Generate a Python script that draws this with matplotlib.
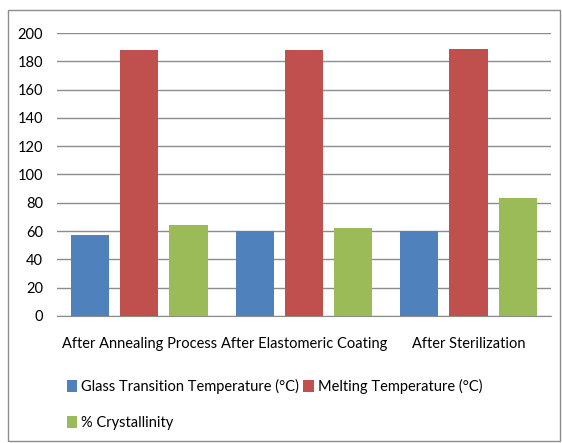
import numpy as np
import matplotlib.pyplot as plt
from matplotlib.patches import Rectangle

plt.rcParams['font.family'] = ['Lato', 'DejaVu Sans']

categories = ['After Annealing Process', 'After Elastomeric Coating', 'After Sterilization']
glass_tg = [57.5, 60, 60]
melting_tm = [188, 188, 189]
crystallinity = [64.5, 62.5, 83.5]

series = [
    ('Glass Transition Temperature (°C)', glass_tg, '#4F81BD'),
    ('Melting Temperature (°C)', melting_tm, '#C0504D'),
    ('% Crystallinity', crystallinity, '#9BBB59'),
]

fig = plt.figure(figsize=(5.62, 4.43), dpi=100)
ax = fig.add_axes([0.1014, 0.2867, 0.8786, 0.6388])

ind = np.arange(len(categories))
width = 0.232
step = 0.299
for i, (name, vals, col) in enumerate(series):
    ax.bar(ind + (i - 1) * step, vals, width, color=col, label=name, zorder=3)

ax.set_xlim(-0.5, 2.5)
ax.set_ylim(0, 200)
ax.set_yticks(range(0, 201, 20))
ax.set_xticks(ind)
ax.set_xticklabels(categories)
ax.yaxis.grid(True, color='#8c8c8c', linewidth=1, zorder=0)
for s in ['top', 'right', 'left']:
    ax.spines[s].set_visible(False)
ax.spines['bottom'].set_color('#8c8c8c')
ax.tick_params(axis='both', length=0, labelsize=10.5, colors='#000000')
ax.tick_params(axis='y', pad=10)
ax.tick_params(axis='x', pad=15)

handles, labels = ax.get_legend_handles_labels()
order = [0, 2, 1]  # matplotlib fills legend columns first
fig.legend([handles[i] for i in order], [labels[i] for i in order], ncol=2,
           loc='upper left', bbox_to_anchor=(0.095, 0.175),
           frameon=False, fontsize=10.5, handlelength=0.7, handleheight=0.9,
           handletextpad=0.3, columnspacing=0.3, labelspacing=1.5)

fig.patches.append(Rectangle((0.014, 0.005), 0.982, 0.972, transform=fig.transFigure,
                             fill=False, edgecolor='#8c8c8c', linewidth=1))

fig.savefig('out.png', dpi=100)
